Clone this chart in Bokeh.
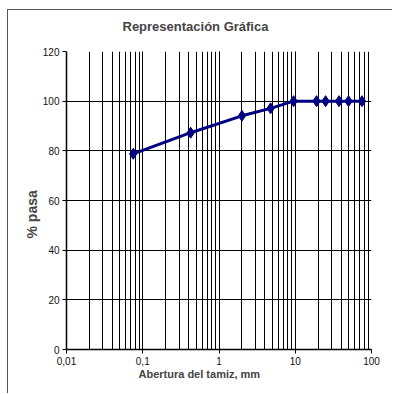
from bokeh.plotting import figure
from bokeh.models import Range1d, LogTicker, FixedTicker, Title
from bokeh.embed import file_html
from bokeh.resources import INLINE

# data
abertura_mm = [0.075, 0.425, 2.0, 4.75, 9.5, 19.0, 25.0, 37.5, 50.0, 75.0]
pct_pasa = [78.8, 87.3, 94.1, 97.1, 100.0, 100.0, 100.0, 100.0, 100.0, 100.0]
x_ticks = [0.01, 0.1, 1, 10, 100]
x_tick_labels = ["0,01", "0,1", "1", "10", "100"]
y_ticks = [0, 20, 40, 60, 80, 100, 120]

FONT = "Liberation Sans"

p = figure(width=385, height=384, x_axis_type="log",
           x_range=Range1d(0.01, 100), y_range=Range1d(0, 120),
           output_backend="svg", toolbar_location=None,
           min_border_left=58, min_border_right=22,
           min_border_top=41, min_border_bottom=45)
p.styles = {"margin-left": "7px", "margin-top": "9px",
            "border-left": "1px solid #555555", "border-top": "1px solid #555555"}
p.outline_line_color = None
p.background_fill_color = "white"
p.border_fill_color = "white"

p.xaxis.ticker = LogTicker(num_minor_ticks=10)
p.xaxis.major_label_overrides = {t: l for t, l in zip(x_ticks, x_tick_labels)}
p.yaxis.ticker = FixedTicker(ticks=y_ticks)

for ax in (p.xaxis, p.yaxis):
    ax.axis_line_color = "#000000"
    ax.axis_line_width = 1.5
    ax.major_tick_line_color = "#000000"
    ax.major_tick_out = 4
    ax.major_tick_in = 0
    ax.minor_tick_line_color = None
    ax.major_label_text_font = FONT
    ax.major_label_text_font_size = "10px"
    ax.major_label_text_color = "#111111"
    ax.major_label_standoff = 3

p.xgrid.grid_line_color = "#000000"
p.xgrid.grid_line_width = 1
p.xgrid.minor_grid_line_color = "#000000"
p.xgrid.minor_grid_line_width = 1
p.ygrid.grid_line_color = "#000000"
p.ygrid.grid_line_width = 1

p.line(abertura_mm, pct_pasa, line_color="#000080", line_width=3)
p.scatter(abertura_mm, pct_pasa, marker="diamond", size=11,
          fill_color="#000080", line_color="#000080")

p.add_layout(Title(text="Representación Gráfica", align="left", offset=56,
                   text_font=FONT, text_font_style="bold", text_font_size="13px",
                   vertical_align="top", standoff=0,
                   padding=dict(left=0, right=0, top=0, bottom=16)), "above")
p.add_layout(Title(text="Abertura del tamiz, mm", align="left", offset=72,
                   text_font=FONT, text_font_style="bold", text_font_size="11px",
                   vertical_align="top", standoff=0), "below")
p.add_layout(Title(text="% pasa", align="left", offset=111,
                   text_font=FONT, text_font_style="bold", text_font_size="14px",
                   vertical_align="bottom", standoff=0), "left")

open("out.html", "w").write(file_html(p, INLINE))
